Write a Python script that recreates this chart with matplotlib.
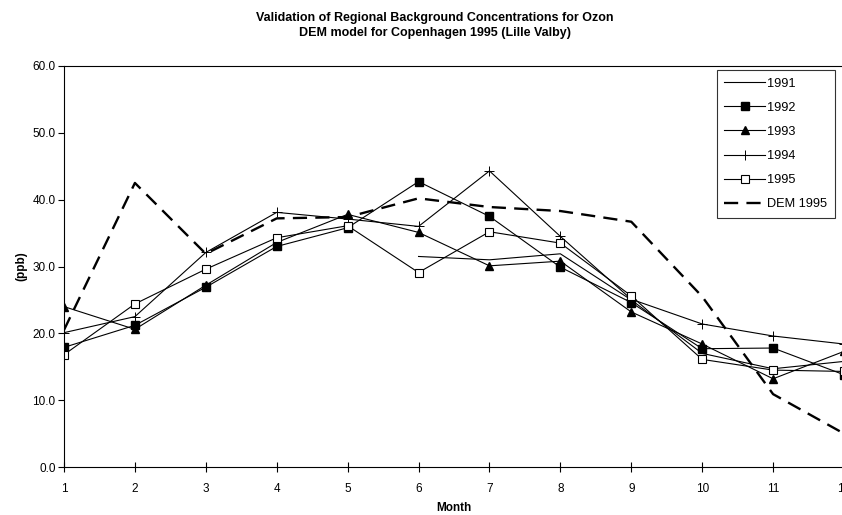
import numpy as np
import matplotlib
matplotlib.use("Agg")
import matplotlib.pyplot as plt

plt.rcParams['font.family'] = ['Liberation Sans', 'DejaVu Sans']

months = np.arange(1, 13)
nan = np.nan
y1991 = [nan, nan, nan, nan, nan, 31.5, 31.0, 31.9, 25.0, 17.0, 14.7, 15.8]
y1992 = [17.9, 21.2, 26.9, 33.0, 35.8, 42.7, 37.5, 29.9, 24.6, 17.7, 17.8, 13.8]
y1993 = [24.0, 20.6, 27.2, 33.6, 37.8, 35.1, 30.1, 30.8, 23.2, 18.4, 13.2, 17.3]
y1994 = [20.1, 22.5, 32.1, 38.1, 37.1, 36.0, 44.3, 34.5, 25.1, 21.4, 19.6, 18.4]
y1995 = [16.8, 24.4, 29.6, 34.3, 36.1, 29.1, 35.2, 33.5, 25.6, 16.1, 14.5, 14.3]
dem1995 = [20.5, 42.5, 31.9, 37.2, 37.4, 40.2, 38.9, 38.3, 36.7, 25.5, 10.9, 5.0]

series_labels = ["1991", "1992", "1993", "1994", "1995", "DEM 1995"]

W, H = 842, 515
fig = plt.figure(figsize=(W / 100, H / 100), dpi=100)
ax = fig.add_axes([64 / W, (H - 467) / H, (844 - 64) / W, (467 - 66) / H])

lw = 0.8
ax.plot(months, y1991, color='black', lw=lw, label=series_labels[0])
ax.plot(months, y1992, color='black', lw=lw, marker='s', ms=5.2,
        mfc='black', mec='black', label=series_labels[1])
ax.plot(months, y1993, color='black', lw=lw, marker='^', ms=5.2,
        mfc='black', mec='black', label=series_labels[2])
ax.plot(months, y1994, color='black', lw=lw, marker='+', ms=6.5,
        mew=0.7, label=series_labels[3])
ax.plot(months, y1995, color='black', lw=lw, marker='s', ms=5.2,
        mfc='white', mec='black', mew=0.8, label=series_labels[4])
ax.plot(months, dem1995, color='black', lw=1.7, linestyle=(0, (6, 3.5)),
        label=series_labels[5])

ax.set_xlim(1, 12)
ax.set_ylim(0, 60)
ax.set_xticks(months)
ax.set_xticklabels([str(m) for m in months])
ax.set_yticks(np.arange(0, 61, 10))
ax.set_yticklabels([f"{v:.1f}" for v in np.arange(0, 61, 10)])
ax.tick_params(axis='y', direction='out', length=4, width=0.8,
               labelsize=8.5, pad=2)
ax.tick_params(axis='x', direction='inout', length=7, width=0.8,
               labelsize=8.5, pad=8)
for s in ax.spines.values():
    s.set_color('black')
    s.set_linewidth(0.8)

ax.set_ylabel("(ppb)", fontsize=8.5, fontweight='bold', labelpad=4)
ax.set_xlabel("Month", fontsize=8.5, fontweight='bold', labelpad=5)

fig.text(435 / W, 1 - 18 / H,
         "Validation of Regional Background Concentrations for Ozon",
         ha='center', va='center', fontsize=9, fontweight='bold')
fig.text(435 / W, 1 - 33 / H,
         "DEM model for Copenhagen 1995 (Lille Valby)",
         ha='center', va='center', fontsize=9, fontweight='bold')

leg = ax.legend(loc='upper right', bbox_to_anchor=(835 / W, 1 - 70 / H),
                bbox_transform=fig.transFigure, fontsize=9.2, frameon=True,
                fancybox=False, edgecolor='black', handlelength=3.2,
                handletextpad=0.15, labelspacing=0.95, borderpad=0.6,
                borderaxespad=0)
leg.get_frame().set_linewidth(0.8)

fig.savefig("out.png", dpi=100)
